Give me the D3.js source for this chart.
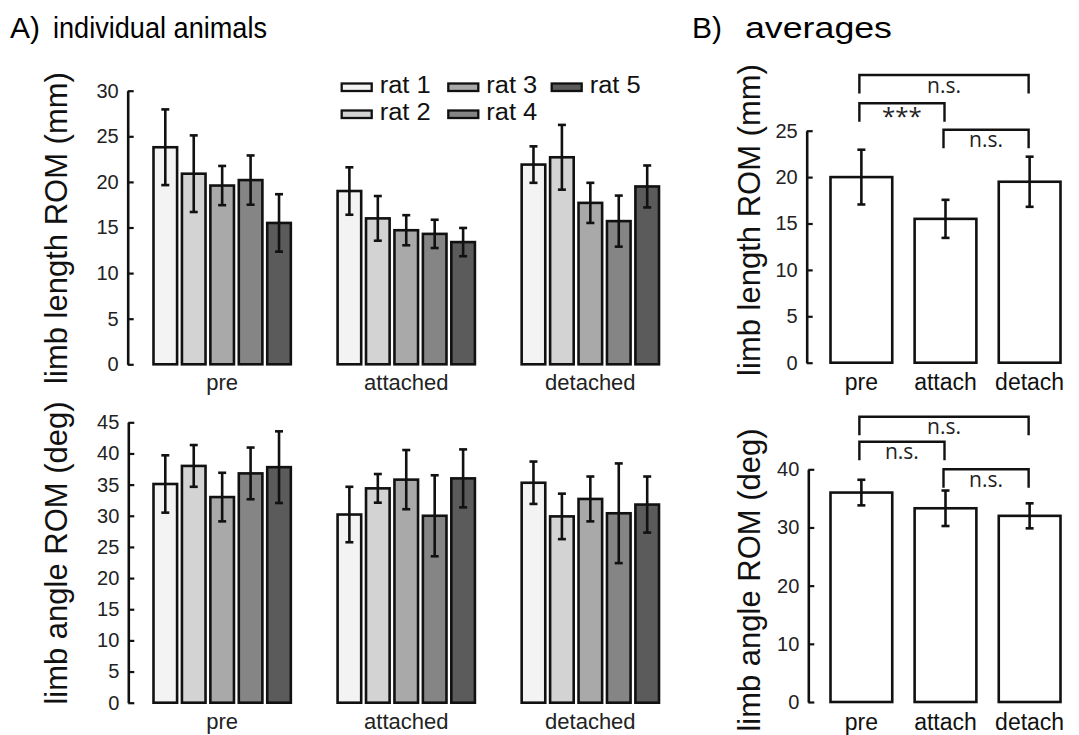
<!DOCTYPE html>
<html><head><meta charset="utf-8">
<script src="https://cdn.jsdelivr.net/npm/d3@7"></script>
<style>
body{margin:0;background:#fff;}
svg{display:block;font-family:"Liberation Sans",Arial,sans-serif;}
</style></head>
<body><svg id="c" width="1079" height="735"></svg>
<script>
// ---------- data ----------
const groups = ["pre", "attached", "detached"];
const rats = ["rat 1", "rat 2", "rat 3", "rat 4", "rat 5"];
const ratColors = ["#f3f3f3", "#d3d3d3", "#a9a9a9", "#858585", "#5b5b5b"];

// limb length ROM (mm), individual animals: mean per rat, per condition
const lengthPre      = [23.8, 20.9, 19.6, 20.2, 15.5];
const lengthPreErr   = [4.15, 4.2, 2.15, 2.7, 3.15];
const lengthAtt      = [19.0, 16.0, 14.7, 14.3, 13.4];
const lengthAttErr   = [2.6, 2.45, 1.65, 1.55, 1.55];
const lengthDet      = [21.9, 22.7, 17.7, 15.7, 19.5];
const lengthDetErr   = [2.0, 3.55, 2.2, 2.8, 2.3];

// limb angle ROM (deg), individual animals
const anglePre       = [35.1, 38.0, 33.0, 36.8, 37.8];
const anglePreErr    = [4.6, 3.35, 3.9, 4.15, 5.75];
const angleAtt       = [30.2, 34.4, 35.8, 30.0, 36.0];
const angleAttErr    = [4.45, 2.3, 4.75, 6.5, 4.65];
const angleDet       = [35.3, 29.9, 32.7, 30.4, 31.8];
const angleDetErr    = [3.4, 3.65, 3.6, 8.0, 4.5];

// averages
const avgConditions  = ["pre", "attach", "detach"];
const avgLength      = [20.0, 15.5, 19.5];
const avgLengthErr   = [2.95, 2.05, 2.7];
const avgAngle       = [36.0, 33.3, 32.0];
const avgAngleErr    = [2.2, 3.05, 2.15];

// significance comparisons [from, to, label]
const lengthSig = [["pre", "detach", "n.s."], ["pre", "attach", "***"], ["attach", "detach", "n.s."]];
const angleSig  = [["pre", "detach", "n.s."], ["pre", "attach", "n.s."], ["attach", "detach", "n.s."]];

const lengthTicks = [0, 5, 10, 15, 20, 25, 30];
const angleTicks  = [0, 5, 10, 15, 20, 25, 30, 35, 40, 45];
const avgLengthTicks = [0, 5, 10, 15, 20, 25];
const avgAngleTicks  = [0, 10, 20, 30, 40];

// ---------- drawing ----------
const svg = d3.select("#c");
const STROKE = 2.6;

svg.append("text").attr("x", 10).attr("y", 38).attr("font-size", 30).text("A)");
svg.append("text").attr("x", 53).attr("y", 38).attr("font-size", 30)
  .attr("textLength", 214).attr("lengthAdjust", "spacingAndGlyphs").text("individual animals");
svg.append("text").attr("x", 692).attr("y", 38).attr("font-size", 30).text("B)");
svg.append("text").attr("x", 745).attr("y", 38).attr("font-size", 30)
  .attr("textLength", 147).attr("lengthAdjust", "spacingAndGlyphs").text("averages");

function yAxis(g, y, ticks, pad) {
  const ax = d3.axisLeft(y).tickValues(ticks).tickSize(-6).tickSizeOuter(0).tickPadding(pad);
  g.call(ax);
  g.select(".domain").attr("stroke", "#111").attr("stroke-width", STROKE);
  g.selectAll(".tick line").attr("stroke", "#111").attr("stroke-width", 2.2);
  g.selectAll(".tick text").attr("font-size", 20).attr("fill", "#222")
    .attr("font-family", "Liberation Sans, Arial, sans-serif");
}

function errorBar(g, x, yTop, yBot, cap) {
  g.append("line").attr("x1", x).attr("x2", x).attr("y1", yTop).attr("y2", yBot)
    .attr("stroke", "#111").attr("stroke-width", STROKE);
  [yTop, yBot].forEach(yy => g.append("line").attr("x1", x - cap).attr("x2", x + cap)
    .attr("y1", yy).attr("y2", yy).attr("stroke", "#111").attr("stroke-width", STROKE));
}

function individualPanel(opt) {
  const y = d3.scaleLinear().domain([0, opt.max]).range([opt.y0, opt.y1]);
  const x = d3.scaleBand().domain(groups).range([153.5, 659]).paddingInner(0.254);
  const xi = d3.scaleBand().domain(rats).range([0, x.bandwidth()]).paddingInner(0.17);
  const g = svg.append("g");
  yAxis(g.append("g").attr("transform", `translate(${opt.axisX},0)`), y, opt.ticks, 9);

  groups.forEach((grp, gi) => {
    const vals = opt.means[gi], errs = opt.errs[gi];
    rats.forEach((r, ri) => {
      const bx = x(grp) + xi(r);
      g.append("rect").attr("x", bx).attr("y", y(vals[ri]))
        .attr("width", xi.bandwidth()).attr("height", y(0) - y(vals[ri]))
        .attr("fill", ratColors[ri]).attr("stroke", "#111").attr("stroke-width", STROKE);
      errorBar(g, bx + xi.bandwidth() / 2, y(vals[ri] + errs[ri]), y(vals[ri] - errs[ri]), 4);
    });
    g.append("text").attr("x", x(grp) + x.bandwidth() / 2).attr("y", opt.labelY)
      .attr("text-anchor", "middle").attr("font-size", 22).attr("fill", "#222").text(grp);
  });

  g.append("text").attr("transform", `translate(${opt.titleX},${opt.titleY}) rotate(-90)`)
    .attr("text-anchor", "middle").attr("font-size", 31).attr("fill", "#111").text(opt.title);
}

individualPanel({
  max: 30, y0: 364.3, y1: 90.7, axisX: 127.7, ticks: lengthTicks,
  means: [lengthPre, lengthAtt, lengthDet], errs: [lengthPreErr, lengthAttErr, lengthDetErr],
  labelY: 390, title: "limb length ROM (mm)", titleX: 67, titleY: 228
});
individualPanel({
  max: 45, y0: 702.7, y1: 422.3, axisX: 128.3, ticks: angleTicks,
  means: [anglePre, angleAtt, angleDet], errs: [anglePreErr, angleAttErr, angleDetErr],
  labelY: 729, title: "limb angle ROM (deg)", titleX: 67, titleY: 553
});

// legend
const legX = [341.7, 341.7, 448.3, 448.3, 551.7];
const legRow = [0, 1, 0, 1, 0];
const leg = svg.append("g");
rats.forEach((r, i) => {
  const lx = legX[i], ly = 83.5 + legRow[i] * 27;
  leg.append("rect").attr("x", lx).attr("y", ly).attr("width", 30).attr("height", 7.5)
    .attr("fill", ratColors[i]).attr("stroke", "#111").attr("stroke-width", 2.3);
  leg.append("text").attr("x", lx + 38).attr("y", ly + 9).attr("font-size", 23)
    .attr("textLength", 51).attr("lengthAdjust", "spacingAndGlyphs")
    .attr("fill", "#111").text(r);
});

function averagePanel(opt) {
  const y = d3.scaleLinear().domain([0, opt.max]).range([opt.y0, opt.y1]);
  const x = d3.scaleBand().domain(avgConditions).range([830.5, 1060.5]).paddingInner(0.266);
  const g = svg.append("g");
  yAxis(g.append("g").attr("transform", `translate(${opt.axisX},0)`), y, opt.ticks, 9);
  avgConditions.forEach((c, i) => {
    g.append("rect").attr("x", x(c)).attr("y", y(opt.means[i]))
      .attr("width", x.bandwidth()).attr("height", y(0) - y(opt.means[i]))
      .attr("fill", "#fff").attr("stroke", "#111").attr("stroke-width", STROKE);
    errorBar(g, x(c) + x.bandwidth() / 2, y(opt.means[i] + opt.errs[i]), y(opt.means[i] - opt.errs[i]), 4);
    g.append("text").attr("x", x(c) + x.bandwidth() / 2).attr("y", opt.labelY)
      .attr("text-anchor", "middle").attr("font-size", 23).attr("fill", "#111").text(c);
  });
  // significance brackets
  opt.sig.forEach((s, k) => {
    const xa = x(s[0]) + x.bandwidth() / 2 - 2, xb = x(s[1]) + x.bandwidth() / 2 - 1;
    const top = opt.brY[k], bot = top + 18.5;
    g.append("path").attr("d", `M${xa},${bot}V${top}H${xb}V${bot}`)
      .attr("fill", "none").attr("stroke", "#111").attr("stroke-width", 2.4);
    g.append("text").attr("x", (xa + xb) / 2).attr("y", s[2] === "***" ? bot + 3 : bot - 1)
      .attr("text-anchor", "middle").attr("font-size", s[2] === "***" ? 24 : 21)
      .attr("font-family", "Open Sans, DejaVu Sans, sans-serif").attr("fill", "#222").text(s[2]);
  });
  g.append("text").attr("transform", `translate(${opt.titleX},${opt.titleY}) rotate(-90)`)
    .attr("text-anchor", "middle").attr("font-size", 31).attr("fill", "#111").text(opt.title);
}

averagePanel({
  max: 25, y0: 362.7, y1: 130.7, axisX: 806.7, ticks: avgLengthTicks,
  means: avgLength, errs: avgLengthErr, labelY: 390, sig: lengthSig, brY: [75, 103.3, 129.7],
  title: "limb length ROM (mm)", titleX: 760, titleY: 220
});
averagePanel({
  max: 40, y0: 702, y1: 469.3, axisX: 808.3, ticks: avgAngleTicks,
  means: avgAngle, errs: avgAngleErr, labelY: 730, sig: angleSig, brY: [416.7, 441.7, 469.3],
  title: "limb angle ROM (deg)", titleX: 760, titleY: 580
});
</script></body></html>
